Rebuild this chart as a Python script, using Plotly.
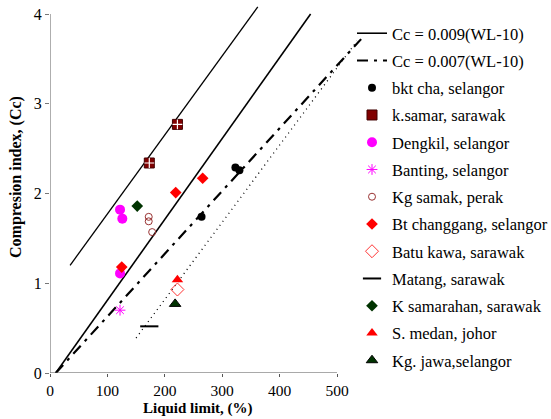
import plotly.graph_objects as go

# Reference lines (liquid limit %, compression index)
line009_wl = [10, 454]      # Cc = 0.009(WL-10)
line009_cc = [0.0, 4.0]
line007_wl = [10, 542]      # Cc = 0.007(WL-10)
line007_cc = [0.0, 3.72]
upper_wl = [35, 362]
upper_cc = [1.2, 4.08]
lower_wl = [150, 535]
lower_cc = [0.39, 3.70]

# Data points
bkt_cha_wl = [264, 323, 330];      bkt_cha_cc = [1.74, 2.29, 2.26]
k_samar_wl = [173, 222];           k_samar_cc = [2.34, 2.77]
dengkil_wl = [122, 126, 122];      dengkil_cc = [1.82, 1.72, 1.11]
banting_wl = [122];                banting_cc = [0.70]
kg_samak_wl = [172, 172, 178];     kg_samak_cc = [1.74, 1.69, 1.57]
bt_chang_wl = [125, 219, 266];     bt_chang_cc = [1.18, 2.01, 2.17]
batu_kawa_wl = [222];              batu_kawa_cc = [0.93]
matang_wl = [173];                 matang_cc = [0.52]
k_samarahan_wl = [152];            k_samarahan_cc = [1.86]
s_medan_wl = [222];                s_medan_cc = [1.04]
kg_jawa_wl = [218];                kg_jawa_cc = [0.77]

x_ticks = [0, 100, 200, 300, 400, 500]
y_ticks = [0, 1, 2, 3, 4]

FONT = "Liberation Serif"

fig = go.Figure()
g = 0
def add(tr):
    global g
    g += 1
    tr.legendgroup = "g%d" % g
    fig.add_trace(tr)

add(go.Scatter(x=line009_wl, y=line009_cc, mode="lines", name="Cc = 0.009(WL-10)",
               line=dict(color="black", width=1.6)))
add(go.Scatter(x=line007_wl, y=line007_cc, mode="lines", name="Cc = 0.007(WL-10)",
               line=dict(color="black", width=2.2, dash="11px,6px,3px,6px")))
fig.add_trace(go.Scatter(x=upper_wl, y=upper_cc, mode="lines", showlegend=False,
               line=dict(color="black", width=1.3)))
fig.add_trace(go.Scatter(x=lower_wl, y=lower_cc, mode="lines", showlegend=False,
               line=dict(color="black", width=1.3, dash="1px,4px")))

add(go.Scatter(x=bkt_cha_wl, y=bkt_cha_cc, mode="markers", name="bkt cha, selangor",
               marker=dict(symbol="circle", size=8, color="black")))
add(go.Scatter(x=k_samar_wl, y=k_samar_cc, mode="markers", name="k.samar, sarawak",
               marker=dict(symbol="square", size=10, color="#800000",
                           line=dict(color="#400000", width=1))))
fig.add_trace(go.Scatter(x=k_samar_wl, y=k_samar_cc, mode="markers", showlegend=False,
               marker=dict(symbol="cross-thin", size=7, line=dict(color="white", width=1.2))))
add(go.Scatter(x=dengkil_wl, y=dengkil_cc, mode="markers", name="Dengkil, selangor",
               marker=dict(symbol="circle", size=10, color="#FF00FF")))
add(go.Scatter(x=banting_wl, y=banting_cc, mode="markers", name="Banting, selangor",
               marker=dict(symbol="asterisk", size=9, color="#FF00FF",
                           line=dict(color="#FF00FF", width=1))))
add(go.Scatter(x=kg_samak_wl, y=kg_samak_cc, mode="markers", name="Kg samak, perak",
               marker=dict(symbol="circle-open", size=7, color="#993333",
                           line=dict(color="#993333", width=1))))
add(go.Scatter(x=bt_chang_wl, y=bt_chang_cc, mode="markers", name="Bt changgang, selangor",
               marker=dict(symbol="diamond", size=9, color="#FF0000")))
add(go.Scatter(x=batu_kawa_wl, y=batu_kawa_cc, mode="markers", name="Batu kawa, sarawak",
               marker=dict(symbol="diamond-open", size=10, color="#FF3333",
                           line=dict(color="#FF3333", width=1))))
add(go.Scatter(x=matang_wl, y=matang_cc, mode="markers", name="Matang, sarawak",
               marker=dict(symbol="line-ew", size=13, color="black",
                           line=dict(color="black", width=2))))
add(go.Scatter(x=k_samarahan_wl, y=k_samarahan_cc, mode="markers", name="K samarahan, sarawak",
               marker=dict(symbol="diamond", size=9, color="#003300")))
add(go.Scatter(x=s_medan_wl, y=s_medan_cc, mode="markers", name="S. medan, johor",
               marker=dict(symbol="triangle-up", size=10, color="#FF0000")))
add(go.Scatter(x=kg_jawa_wl, y=kg_jawa_cc, mode="markers", name="Kg. jawa,selangor",
               marker=dict(symbol="triangle-up", size=10, color="#003300",
                           line=dict(color="black", width=1))))

# axis lines limited to the labelled range
fig.add_shape(type="line", x0=0, x1=500, y0=0, y1=0, xref="x", yref="y",
              line=dict(color="#555555", width=1.2))
fig.add_shape(type="line", x0=0, x1=0, y0=0, y1=4, xref="x", yref="y",
              line=dict(color="#777777", width=1.2))

# plot area: x 50..362 px, y 5..373 px
L, R, T, B = 50, 362, 5, 373
W, H = 551, 419
xmax = (R - L) / ((337 - 50) / 500)
ymax = (B - T) / ((373 - 14) / 4)

fig.update_xaxes(range=[0, xmax], tickvals=x_ticks, ticks="outside", ticklen=3,
                 tickcolor="#555555", showgrid=False, zeroline=False, showline=False,
                 tickfont=dict(family=FONT, size=15.5, color="black"))
fig.update_yaxes(range=[0, ymax], tickvals=y_ticks, ticks="outside", ticklen=4,
                 tickcolor="#777777", showgrid=False, zeroline=False, showline=False,
                 tickfont=dict(family=FONT, size=16, color="black"))

fig.add_annotation(text="<b>Liquid limit, (%)</b>", xref="paper", yref="paper",
                   x=(198 - L) / (R - L), y=(B - 408) / (B - T), showarrow=False,
                   xanchor="center", yanchor="middle",
                   font=dict(family=FONT, size=15, color="black"))
fig.add_annotation(text="<b>Compresion index, (Cc)</b>", xref="paper", yref="paper",
                   x=(16 - L) / (R - L), y=(B - 177) / (B - T), showarrow=False,
                   xanchor="center", yanchor="middle",
                   textangle=-90, font=dict(family=FONT, size=16, color="black"))

fig.update_layout(
    width=W, height=H,
    margin=dict(l=L, r=W - R, t=T, b=H - B, autoexpand=False),
    paper_bgcolor="white", plot_bgcolor="white",
    showlegend=True,
    legend=dict(x=(352 - L) / (R - L), y=1 - (16 - T) / (B - T), xanchor="left", yanchor="top",
                font=dict(family=FONT, size=16.5, color="black"),
                bgcolor="rgba(0,0,0,0)", borderwidth=0,
                traceorder="grouped", tracegroupgap=2.8, itemwidth=30),
)

fig.write_html("out.html", config={"displayModeBar": False},
               post_script="document.body.style.margin='0px';")
